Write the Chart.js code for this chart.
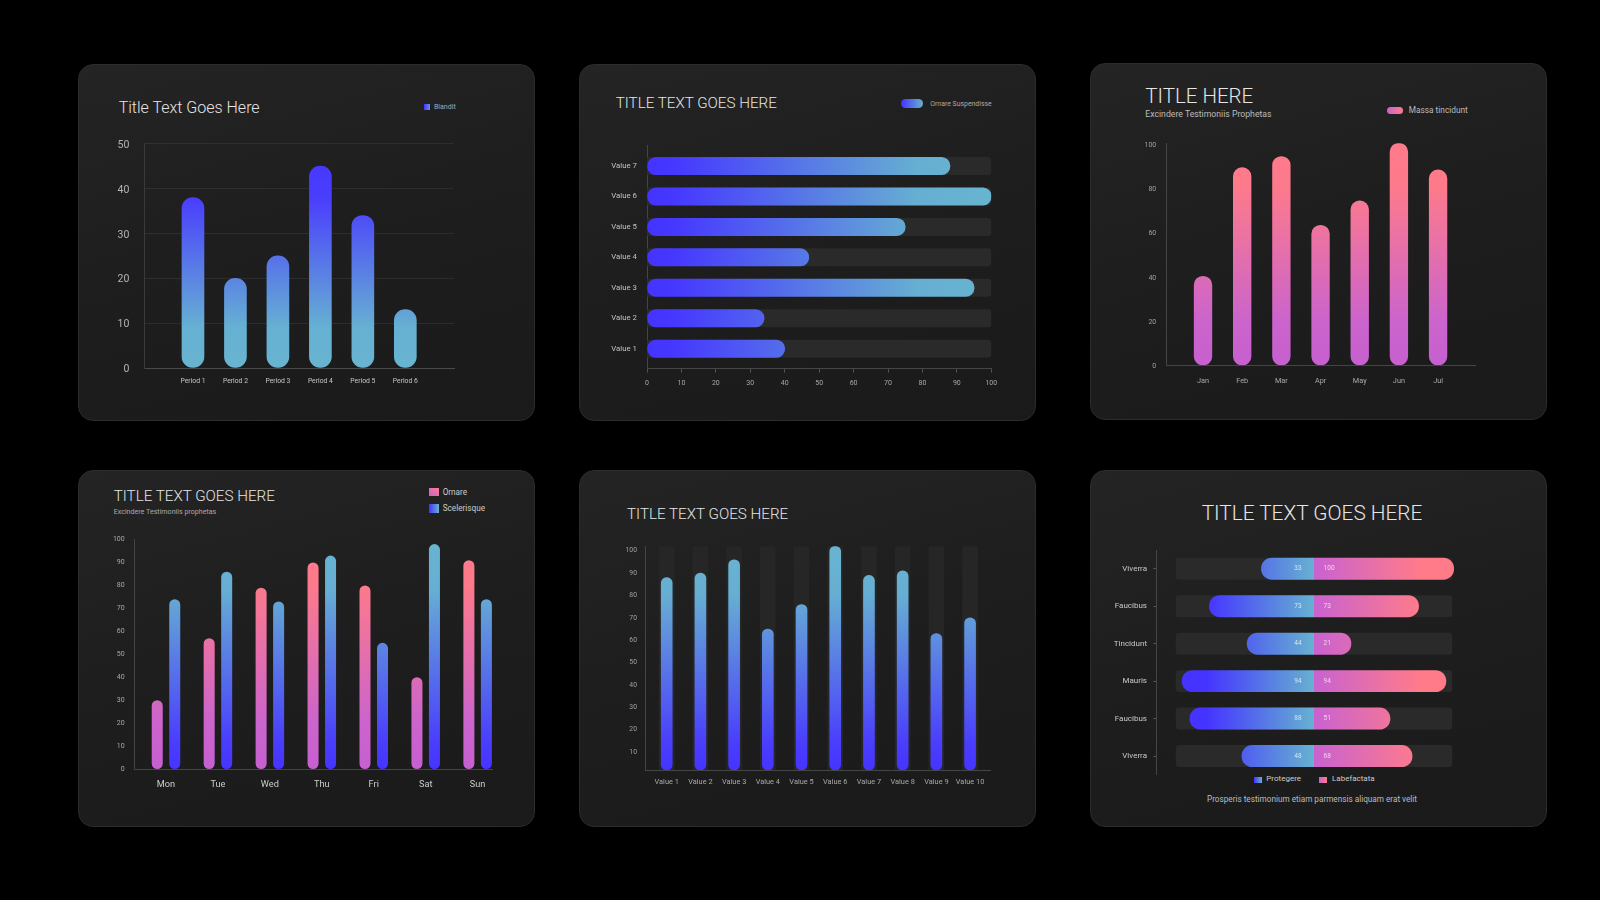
<!DOCTYPE html>
<html><head><meta charset="utf-8">
<script src="https://cdn.jsdelivr.net/npm/chart.js@4.4.1/dist/chart.umd.min.js"></script>
<style>
html,body{margin:0;padding:0;background:#000;}
body{width:1600px;height:900px;position:relative;overflow:hidden;font-family:Roboto,"Liberation Sans",sans-serif;}
.panel{position:absolute;width:457px;height:357px;border-radius:15px;background:linear-gradient(165deg,#242424 0%,#1e1e1e 45%,#1a1a1a 100%);box-sizing:border-box;border:1px solid #2c2c2c;}
.t{position:absolute;white-space:nowrap;line-height:1;transform:translateY(-50%);color:#e4e4e4;}
.tc{transform:translate(-50%,-50%);}
.ttl{font-weight:300;color:#e6e6e6;}
.sw{position:absolute;}
canvas{position:absolute;}
</style></head><body>
<div class="panel" style="left:78px;top:64px"></div>
<div class="panel" style="left:579px;top:64px"></div>
<div class="panel" style="left:1090px;top:63px"></div>
<div class="panel" style="left:78px;top:470px"></div>
<div class="panel" style="left:579px;top:470px"></div>
<div class="panel" style="left:1090px;top:470px"></div>

<!-- panel 1 -->
<div class="t ttl" style="left:118.7px;top:107.7px;font-size:16px">Title Text Goes Here</div>
<div class="sw" style="left:424px;top:104px;width:6px;height:6px;background:linear-gradient(to right,#4433ff,#6a90ee)"></div>
<div class="t" style="left:434px;top:107px;font-size:7px;color:#aaa">Blandit</div>

<!-- panel 2 -->
<div class="t ttl" style="left:615.7px;top:103.7px;font-size:15.2px">TITLE TEXT GOES HERE</div>
<div class="sw" style="left:901px;top:99.3px;width:22px;height:9px;border-radius:4.5px;background:linear-gradient(to right,#4433ff,#66b2d0)"></div>
<div class="t" style="left:930.3px;top:104.3px;font-size:6.9px;color:#aaa">Ornare Suspendisse</div>

<!-- panel 3 -->
<div class="t ttl" style="left:1145.3px;top:95.8px;font-size:20.5px">TITLE HERE</div>
<div class="t" style="left:1145.3px;top:114px;font-size:8.7px;color:#bbb">Excindere Testimoniis Prophetas</div>
<div class="sw" style="left:1387px;top:106.7px;width:16px;height:7px;border-radius:3.5px;background:linear-gradient(to right,#c862d0,#ff7b8a)"></div>
<div class="t" style="left:1408.7px;top:110px;font-size:8.3px;color:#bbb">Massa tincidunt</div>

<!-- panel 4 -->
<div class="t ttl" style="left:113.7px;top:496.7px;font-size:15.2px">TITLE TEXT GOES HERE</div>
<div class="t" style="left:113.7px;top:511.7px;font-size:7.1px;color:#aaa">Excindere Testimoniis prophetas</div>
<div class="sw" style="left:429.3px;top:487.7px;width:10px;height:8.5px;background:linear-gradient(to top right,#c862d0,#ff7b8a)"></div>
<div class="t" style="left:442.7px;top:491.7px;font-size:8.2px;color:#ccc">Ornare</div>
<div class="sw" style="left:429.3px;top:503.7px;width:10px;height:9px;background:linear-gradient(to right,#4433ff,#66b2d0)"></div>
<div class="t" style="left:442.7px;top:508px;font-size:8.2px;color:#ccc">Scelerisque</div>

<!-- panel 5 -->
<div class="t ttl" style="left:627px;top:515px;font-size:15.2px">TITLE TEXT GOES HERE</div>

<!-- panel 6 -->
<div class="t tc ttl" style="left:1312px;top:513.3px;font-size:20.8px">TITLE TEXT GOES HERE</div>
<div class="sw" style="left:1253.7px;top:776.7px;width:8px;height:6px;background:linear-gradient(to right,#4433ff,#66b2d0)"></div>
<div class="t" style="left:1266.3px;top:779.3px;font-size:8px;color:#ccc">Protegere</div>
<div class="sw" style="left:1319.3px;top:776.7px;width:8px;height:6px;background:linear-gradient(to right,#c862d0,#ff7b8a)"></div>
<div class="t" style="left:1332px;top:779.3px;font-size:8px;color:#ccc">Labefactata</div>
<div class="t tc" style="left:1312px;top:799px;font-size:8.2px;color:#bbb">Prosperis testimonium etiam parmensis aliquam erat velit</div>

<script>
// ---------------- data ----------------
const p1Categories = ['Period 1','Period 2','Period 3','Period 4','Period 5','Period 6'];
const p1Values = [38, 20, 25, 45, 34, 13];
const p1Ticks = [0, 10, 20, 30, 40, 50];

const p2Categories = ['Value 1','Value 2','Value 3','Value 4','Value 5','Value 6','Value 7'];
const p2Values = [40, 34, 95, 47, 75, 100, 88];
const p2Track = [100, 100, 100, 100, 100, 100, 100];
const p2Ticks = [0, 10, 20, 30, 40, 50, 60, 70, 80, 90, 100];

const p3Categories = ['Jan','Feb','Mar','Apr','May','Jun','Jul'];
const p3Values = [40, 89, 94, 63, 74, 100, 88];
const p3Ticks = [0, 20, 40, 60, 80, 100];

const p4Categories = ['Mon','Tue','Wed','Thu','Fri','Sat','Sun'];
const p4Ornare = [30, 57, 79, 90, 80, 40, 91];
const p4Scelerisque = [74, 86, 73, 93, 55, 98, 74];
const p4Ticks = [0, 10, 20, 30, 40, 50, 60, 70, 80, 90, 100];

const p5Categories = ['Value 1','Value 2','Value 3','Value 4','Value 5','Value 6','Value 7','Value 8','Value 9','Value 10'];
const p5Values = [86, 88, 94, 63, 74, 100, 87, 89, 61, 68];
const p5Track = [100, 100, 100, 100, 100, 100, 100, 100, 100, 100];
const p5Ticks = [10, 20, 30, 40, 50, 60, 70, 80, 90, 100];

const p6Categories = ['Viverra','Faucibus','Tincidunt','Mauris','Faucibus','Viverra'];
const p6Protegere = [33, 73, 44, 94, 88, 48];
const p6Labefactata = [100, 73, 21, 94, 51, 68];
const p6Track = [98.6, 98.6, 98.6, 98.6, 98.6, 98.6];

// ---------------- helpers ----------------
Chart.defaults.font.family = 'Roboto, "Liberation Sans", sans-serif';
Chart.defaults.animation = false;
Chart.defaults.plugins.legend.display = false;
Chart.defaults.plugins.tooltip.enabled = false;

function canvasAt(l, t, w, h) {
  const c = document.createElement('canvas');
  c.width = w; c.height = h;
  c.style.left = l + 'px'; c.style.top = t + 'px';
  c.style.width = w + 'px'; c.style.height = h + 'px';
  document.body.appendChild(c);
  return c;
}
function grad(ctx, dir, stops) {
  const chart = ctx.chart, a = chart.chartArea;
  if (!a) return stops[0][1];
  let g;
  if (dir === 'up') g = chart.ctx.createLinearGradient(0, a.bottom, 0, a.top);
  else if (dir === 'right') g = chart.ctx.createLinearGradient(a.left, 0, a.right, 0);
  else g = chart.ctx.createLinearGradient(a.right, 0, a.left, 0);
  stops.forEach(([o, c]) => g.addColorStop(o, c));
  return g;
}
const idxTicks = cats => s => { s.ticks = cats.map((_, i) => ({ value: i })); };
const fixTicks = arr => s => { s.ticks = arr.map(v => ({ value: v })); };
// fix the axis box size and drop the automatic label padding so the plot area lands exactly
const fitW = w => s => { s.width = w; s.paddingTop = 0; s.paddingBottom = 0; };
const fitH = h => s => { s.height = h; s.paddingLeft = 0; s.paddingRight = 0; };
const pt = (vals) => vals.map((v, i) => ({ x: i, y: v }));
const ptH = (vals) => vals.map((v, i) => ({ x: v, y: i }));

const BLUE_DOWN = [[0, '#68b4d0'], [0.18, '#66b0d2'], [0.75, '#4a3ffc'], [1, '#4433ff']];
const BLUE_UP = [[0, '#4534ff'], [0.12, '#4a3efc'], [0.78, '#66aed3'], [1, '#68b4d0']];
const PINK_UP = [[0, '#c760d0'], [0.2, '#cb64cc'], [0.8, '#fd7a8c'], [1, '#ff7b8a']];
const AX = '#454545';

// ---------------- chart 1 ----------------
new Chart(canvasAt(100, 130, 370, 270), {
  type: 'bar',
  data: { datasets: [{ data: pt(p1Values), backgroundColor: c => grad(c, 'up', BLUE_DOWN),
    barThickness: 22, borderRadius: 11, borderSkipped: false }] },
  options: { responsive: false, layout: { padding: { top: 13.7, right: 16, left: 0, bottom: 0 } },
    scales: {
      x: { type: 'linear', offset: false, min: -1.146, max: 6.146, afterBuildTicks: idxTicks(p1Categories),
        afterFit: fitH(32),
        ticks: { callback: v => p1Categories[v], color: '#c6c6c6', font: { size: 6.8 }, padding: 8.9, maxRotation: 0, autoSkip: false },
        grid: { display: false, drawTicks: false, offset: false }, border: { color: '#4a4a4a' } },
      y: { min: 0, max: 50, afterBuildTicks: fixTicks(p1Ticks), afterFit: fitW(44.3),
        ticks: { color: '#b4b4b4', font: { size: 10.5 }, padding: 15, labelOffset: 1.5 },
        grid: { color: 'rgba(255,255,255,0.07)', drawTicks: false }, border: { color: '#3a3a3a' } }
    } }
});

// ---------------- chart 2 ----------------
new Chart(canvasAt(590, 135, 415, 265), {
  type: 'bar',
  data: { datasets: [
    { data: ptH(p2Values), backgroundColor: c => grad(c, 'right', [[0, '#4433ff'], [0.08, '#4638ff'], [0.78, '#66aed2'], [1, '#68b4d0']]),
      barThickness: 17.3, borderRadius: 8.65, borderSkipped: false, order: 1 },
    { data: ptH(p2Track), backgroundColor: '#2a2a2a', barThickness: 17.3, borderRadius: 4, order: 2 }
  ] },
  options: { responsive: false, indexAxis: 'y', grouped: false,
    layout: { padding: { top: 10.3, right: 13.7, left: 0, bottom: 0 } },
    scales: {
      x: { type: 'linear', min: 0, max: 100, afterBuildTicks: fixTicks(p2Ticks), afterFit: fitH(31.3),
        ticks: { color: '#a8a8a8', font: { size: 7 }, padding: 6.2 },
        grid: { drawOnChartArea: false, tickLength: 4, color: '#505050' }, border: { color: AX } },
      y: { type: 'linear', offset: false, min: -0.657, max: 6.68, afterBuildTicks: idxTicks(p2Categories),
        afterFit: fitW(57),
        ticks: { callback: v => p2Categories[v], color: '#c2c2c2', font: { size: 7.8 }, padding: 10, autoSkip: false },
        grid: { display: false, drawTicks: false, offset: false }, border: { color: AX } }
    } }
});

// ---------------- chart 3 ----------------
new Chart(canvasAt(1120, 130, 370, 270), {
  type: 'bar',
  data: { datasets: [{ data: pt(p3Values), backgroundColor: c => grad(c, 'up', PINK_UP),
    barThickness: 17.7, borderRadius: 8.85, borderSkipped: false }] },
  options: { responsive: false, layout: { padding: { top: 13.3, right: 14.7, left: 0, bottom: 0 } },
    scales: {
      x: { type: 'linear', offset: false, min: -0.945, max: 6.95, afterBuildTicks: idxTicks(p3Categories),
        afterFit: fitH(35),
        ticks: { callback: v => p3Categories[v], color: '#a8a8a8', font: { size: 7.3 }, padding: 11.5, maxRotation: 0, autoSkip: false },
        grid: { display: false, drawTicks: false, offset: false }, border: { color: AX } },
      y: { min: 0, max: 100, afterBuildTicks: fixTicks(p3Ticks), afterFit: fitW(46),
        ticks: { color: '#a0a0a0', font: { size: 7 }, padding: 9.7, labelOffset: 1.5 },
        grid: { display: false, drawTicks: false }, border: { color: AX } }
    } }
});

// ---------------- chart 4 ----------------
new Chart(canvasAt(95, 525, 410, 285), {
  type: 'bar',
  data: { datasets: [
    { data: pt(p4Ornare), backgroundColor: c => grad(c, 'up', PINK_UP), borderRadius: 5.5, borderSkipped: false },
    { data: pt(p4Scelerisque), backgroundColor: c => grad(c, 'up', BLUE_UP), borderRadius: 5.5, borderSkipped: false }
  ] },
  options: { responsive: false, categoryPercentage: 0.674, barPercentage: 0.63,
    layout: { padding: { top: 14.5, right: 12.3, left: 0, bottom: 0 } },
    scales: {
      x: { type: 'linear', offset: false, min: -0.61, max: 6.29, afterBuildTicks: idxTicks(p4Categories),
        afterFit: fitH(41),
        ticks: { callback: v => p4Categories[v], color: '#cccccc', font: { size: 9.2 }, padding: 10, maxRotation: 0, autoSkip: false },
        grid: { display: false, drawTicks: false, offset: false }, border: { color: AX } },
      y: { min: 0, max: 100, afterBuildTicks: fixTicks(p4Ticks), afterFit: fitW(39.3),
        ticks: { color: '#a8a8a8', font: { size: 7 }, padding: 9.6 },
        grid: { display: false, drawTicks: false }, border: { color: AX } }
    } }
});

// ---------------- chart 5 ----------------
new Chart(canvasAt(610, 535, 395, 270), {
  type: 'bar',
  data: { datasets: [
    { data: pt(p5Values), backgroundColor: c => grad(c, 'up', BLUE_UP), barThickness: 11, borderRadius: 5.5, borderSkipped: false, order: 1 },
    { data: pt(p5Track), backgroundColor: '#262626', barThickness: 15, borderRadius: 0, order: 2 }
  ] },
  options: { responsive: false, grouped: false,
    layout: { padding: { top: 11.3, right: 14.7, left: 0, bottom: 0 } },
    scales: {
      x: { type: 'linear', offset: false, min: -0.635, max: 9.6, afterBuildTicks: idxTicks(p5Categories),
        afterFit: fitH(35),
        ticks: { callback: v => p5Categories[v], color: '#a8a8a8', font: { size: 7.4 }, padding: 7.8, maxRotation: 0, autoSkip: false },
        grid: { display: false, drawTicks: false, offset: false }, border: { color: AX } },
      y: { min: 0, max: 100, afterBuildTicks: fixTicks(p5Ticks), afterFit: fitW(35.3),
        ticks: { color: '#a0a0a0', font: { size: 6.8 }, padding: 8.3, labelOffset: 4.5 },
        grid: { display: false, drawTicks: false }, border: { color: AX } }
    } }
});

// ---------------- chart 6 (two halves) ----------------
const P6_BASE = -7.44;
function valueLabels(side) {
  return { id: 'vl' + side, afterDatasetsDraw(chart) {
    const meta = chart.getDatasetMeta(0), ds = chart.data.datasets[0], a = chart.chartArea, c = chart.ctx;
    c.save();
    c.font = '6.5px Roboto, "Liberation Sans", sans-serif';
    c.fillStyle = 'rgba(255,255,255,0.72)';
    c.textBaseline = 'middle';
    c.textAlign = side === 'left' ? 'right' : 'left';
    meta.data.forEach((el, i) => {
      const x = side === 'left' ? a.right - 12.4 : a.left + 9.6;
      c.fillText(String(ds.data[i]), x, el.y);
    });
    c.restore();
  } };
}
new Chart(canvasAt(1100, 540, 214, 245), {
  type: 'bar',
  data: { labels: p6Categories, datasets: [
    { data: p6Protegere, base: P6_BASE, backgroundColor: c => grad(c, 'left', [[0, '#66b2d0'], [0.68, '#4534ff'], [1, '#4433ff']]),
      barThickness: 21.3, borderRadius: 10.65, order: 1 },
    { data: p6Track, base: P6_BASE, backgroundColor: '#2a2a2a', barThickness: 21.3, borderRadius: 3, order: 2 }
  ] },
  options: { responsive: false, indexAxis: 'y', grouped: false,
    layout: { padding: { top: 10, right: 0, left: 0, bottom: 10.2 } },
    scales: {
      x: { type: 'linear', reverse: true, min: P6_BASE, max: 113.86, display: false },
      y: { afterFit: fitW(56.3),
        ticks: { color: '#c8c8c8', font: { size: 8 }, padding: 6.3 },
        grid: { drawOnChartArea: false, tickLength: 3, color: '#555', offset: false }, border: { color: AX } }
    } },
  plugins: [valueLabels('left')]
});
new Chart(canvasAt(1314, 540, 150, 245), {
  type: 'bar',
  data: { labels: p6Categories, datasets: [
    { data: p6Labefactata, base: P6_BASE, backgroundColor: c => grad(c, 'right', [[0, '#c862d0'], [0.75, '#ff7b8a'], [1, '#ff7b8a']]),
      barThickness: 21.3, borderRadius: 10.65, order: 1 },
    { data: p6Track, base: P6_BASE, backgroundColor: '#2a2a2a', barThickness: 21.3, borderRadius: 3, order: 2 }
  ] },
  options: { responsive: false, indexAxis: 'y', grouped: false,
    layout: { padding: { top: 10, right: 9, left: 0, bottom: 10.2 } },
    scales: {
      x: { type: 'linear', min: P6_BASE, max: 101.0, display: false },
      y: { display: false }
    } },
  plugins: [valueLabels('right')]
});
</script>
</body></html>
